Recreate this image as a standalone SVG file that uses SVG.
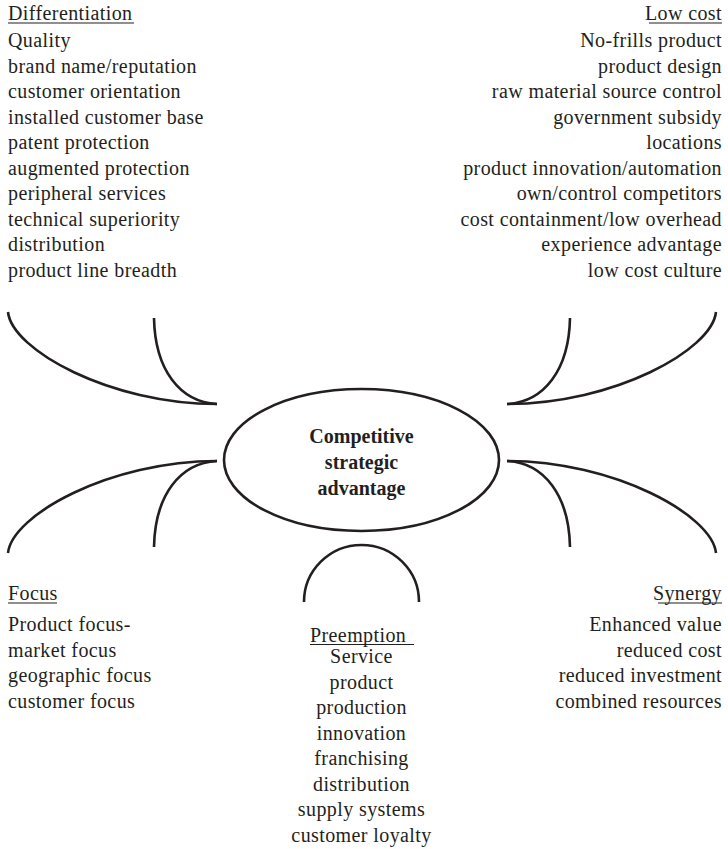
<svg xmlns="http://www.w3.org/2000/svg" width="728" height="849" viewBox="0 0 728 849">
<style>
text{font-family:"Liberation Serif","Times New Roman",serif;font-size:20px;fill:#231f20;letter-spacing:0.4px}
.end{text-anchor:end}
.mid{text-anchor:middle}
.bold{font-weight:bold;letter-spacing:0}
.ul{stroke:#231f20;stroke-width:1.2}
.curve{fill:none;stroke:#231f20;stroke-width:2.6;stroke-linecap:butt}
</style>
<rect width="728" height="849" fill="#fff"/>
<g id="connectors">
<path class="curve" d="M8,312 C12,350 110,404 217,404"/>
<path class="curve" d="M154,318 C155,370 180,402 217,404"/>
<path class="curve" d="M716,312 C712,350 614,404 507,404"/>
<path class="curve" d="M570,318 C569,370 544,402 507,404"/>
<path class="curve" d="M8,553 C12,515 110,461 217,461"/>
<path class="curve" d="M154,547 C155,495 180,463 217,461"/>
<path class="curve" d="M716,553 C712,515 614,461 507,461"/>
<path class="curve" d="M570,547 C569,495 544,463 507,461"/>
<path class="curve" d="M304,602 A57.5,57 0 0 1 419,602"/>
</g>
<g id="center">
<ellipse cx="361.5" cy="460" rx="137.5" ry="71" fill="none" stroke="#231f20" stroke-width="2.6"/>
<text class="mid bold" x="361.5" y="443">Competitive</text>
<text class="mid bold" x="361.5" y="469">strategic</text>
<text class="mid bold" x="361.5" y="495">advantage</text>
</g>
<g id="differentiation">
<text x="8" y="20">Differentiation</text>
<line class="ul" x1="8" y1="23" x2="134" y2="23"/>
<text x="8" y="47">Quality</text>
<text x="8" y="72.5">brand name/reputation</text>
<text x="8" y="98">customer orientation</text>
<text x="8" y="123.5">installed customer base</text>
<text x="8" y="149">patent protection</text>
<text x="8" y="174.5">augmented protection</text>
<text x="8" y="200">peripheral services</text>
<text x="8" y="225.5">technical superiority</text>
<text x="8" y="251">distribution</text>
<text x="8" y="276.5">product line breadth</text>
</g>
<g id="lowcost">
<text class="end" x="722" y="20">Low cost</text>
<line class="ul" x1="649" y1="23" x2="722" y2="23"/>
<text class="end" x="722" y="47">No-frills product</text>
<text class="end" x="722" y="72.5">product design</text>
<text class="end" x="722" y="98">raw material source control</text>
<text class="end" x="722" y="123.5">government subsidy</text>
<text class="end" x="722" y="149">locations</text>
<text class="end" x="722" y="174.5">product innovation/automation</text>
<text class="end" x="722" y="200">own/control competitors</text>
<text class="end" x="722" y="225.5">cost containment/low overhead</text>
<text class="end" x="722" y="251">experience advantage</text>
<text class="end" x="722" y="276.5">low cost culture</text>
</g>
<g id="focus">
<text x="8" y="600">Focus</text>
<line class="ul" x1="8" y1="603" x2="57" y2="603"/>
<text x="8" y="631">Product focus-</text>
<text x="8" y="656.5">market focus</text>
<text x="8" y="682">geographic focus</text>
<text x="8" y="707.5">customer focus</text>
</g>
<g id="synergy">
<text class="end" x="722" y="600">Synergy</text>
<line class="ul" x1="658" y1="603" x2="722" y2="603"/>
<text class="end" x="722" y="631">Enhanced value</text>
<text class="end" x="722" y="656.5">reduced cost</text>
<text class="end" x="722" y="682">reduced investment</text>
<text class="end" x="722" y="707.5">combined resources</text>
</g>
<g id="preemption">
<text x="310" y="641.5">Preemption</text>
<line class="ul" x1="310" y1="644.5" x2="414" y2="644.5"/>
<text class="mid" x="361.5" y="663">Service</text>
<text class="mid" x="361.5" y="688.5">product</text>
<text class="mid" x="361.5" y="714">production</text>
<text class="mid" x="361.5" y="739.5">innovation</text>
<text class="mid" x="361.5" y="765">franchising</text>
<text class="mid" x="361.5" y="790.5">distribution</text>
<text class="mid" x="361.5" y="816">supply systems</text>
<text class="mid" x="361.5" y="841.5">customer loyalty</text>
</g>
</svg>
